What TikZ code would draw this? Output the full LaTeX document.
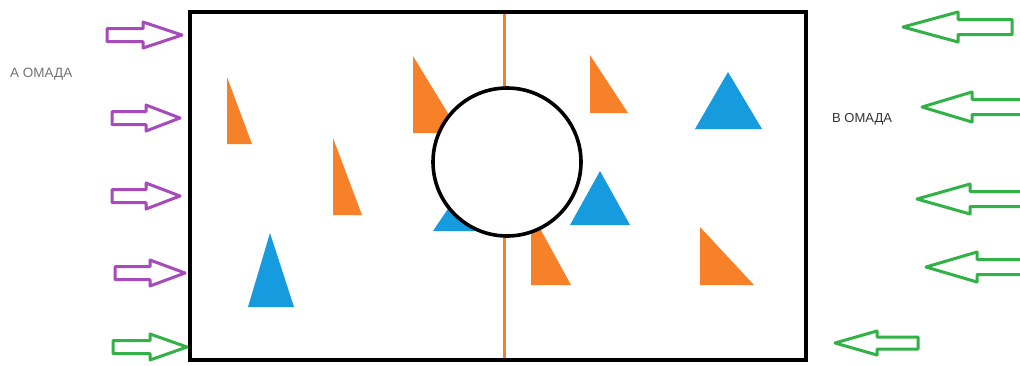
\documentclass[tikz,border=0pt]{standalone}
\usepackage{fontspec}
\setmainfont{Liberation Sans}
\definecolor{teampurple}{RGB}{166,74,188}
\definecolor{teamgreen}{RGB}{50,178,70}
\definecolor{coneorange}{RGB}{247,129,40}
\definecolor{coneblue}{RGB}{22,156,222}
% hollow block arrow: colour, tail x, head base x, tip x, y, shaft half, head half
\newcommand{\teamarrow}[7]{%
  \draw[#1, line width=3pt, line join=round]
    (#2,#5-#6) -- (#3,#5-#6) -- (#3,#5-#7) -- (#4,#5)
    -- (#3,#5+#7) -- (#3,#5+#6) -- (#2,#5+#6) -- cycle;}

\begin{document}
\begin{tikzpicture}[x=1pt,y=-1pt]
    \useasboundingbox[fill=white] (0,0) rectangle (1020,365);
    % centre line
    \draw[coneorange, line width=3pt] (504,12) -- (504,360);
    % orange cones
    \fill[coneorange] (227,77) -- (227,144) -- (252,144) -- cycle;
    \fill[coneorange] (333,138) -- (333,215) -- (362,215) -- cycle;
    \fill[coneorange] (413,56) -- (413,133) -- (460,133) -- cycle;
    \fill[coneorange] (590,55) -- (590,113) -- (628,113) -- cycle;
    \fill[coneorange] (531,212) -- (531,285) -- (571,285) -- cycle;
    \fill[coneorange] (700,227) -- (700,285) -- (754,285) -- cycle;
    % blue cones
    \fill[coneblue] (270,233) -- (248,307) -- (294,307) -- cycle;
    \fill[coneblue] (462,188) -- (433,231) -- (491,231) -- cycle;
    \fill[coneblue] (728,72) -- (695,129) -- (762,129) -- cycle;
    \fill[coneblue] (600,171) -- (570,225) -- (630,225) -- cycle;
    % centre circle
    \draw[fill=white, line width=3.6pt] (507,162) circle (74);
    % pitch
    \draw[line width=3.6pt] (190,12) rectangle (806,360);
    % team A arrows
    \teamarrow{teampurple}{107}{143}{182}{35}{6.5}{13}
    \teamarrow{teampurple}{112}{146}{180}{118}{6.5}{13}
    \teamarrow{teampurple}{112}{146}{180}{196}{6.5}{13}
    \teamarrow{teampurple}{115}{150}{185}{273}{6.5}{13}
    \teamarrow{teamgreen}{113}{150}{187}{347}{6.5}{13}
    % team B arrows
    \teamarrow{teamgreen}{1012}{958}{903}{27}{7.5}{15}
    \teamarrow{teamgreen}{1024}{972}{922}{107}{7.5}{15}
    \teamarrow{teamgreen}{1024}{970}{917}{199}{7.5}{15}
    \teamarrow{teamgreen}{1024}{977}{926}{267}{7.5}{15}
    \teamarrow{teamgreen}{918}{877}{835}{343}{6}{12}
    % team labels
    \node[anchor=west, text=black!55, font=\fontsize{13.5}{15}\selectfont, inner sep=0pt] (teamA) at (10,74) {А ОМАДА};
    \node[anchor=west, text=black!80, font=\fontsize{13}{15}\selectfont, inner sep=0pt] (teamB) at (832,119) {В ОМАДА};
\end{tikzpicture}
\end{document}
